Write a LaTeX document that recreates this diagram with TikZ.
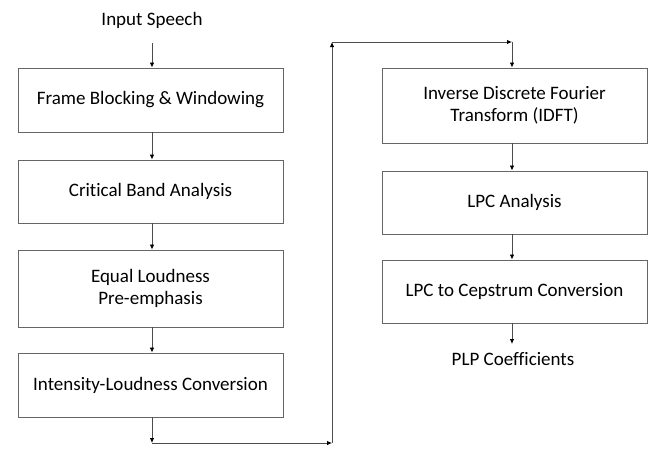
\documentclass[tikz,border=0pt]{standalone}
\usepackage{fontspec}
\setmainfont{Carlito}[Ligatures={NoCommon}]
\usetikzlibrary{arrows.meta}
\begin{document}
\begin{tikzpicture}[x=1pt,y=-1pt,
  box/.style={draw=black!60,line width=0.9pt,minimum width=265pt,align=center,inner sep=0pt,font=\fontsize{19}{22}\selectfont},
  lbl/.style={inner sep=0pt,font=\fontsize{19}{22}\selectfont},
  arr/.style={draw=black!70,line width=0.8pt,-{Latex[length=5pt,width=4.5pt,black]}}]
\useasboundingbox (0,0) rectangle (654,448);
\node[lbl] (in) at (152,20) {Input Speech};
\node[box,minimum height=64pt] (b1) at (150.5,100) {Frame Blocking \& Windowing};
\node[box,minimum height=63pt] (b2) at (150.5,191.5) {Critical Band Analysis};
\node[box,minimum height=77pt] (b3) at (150.5,288.5) {Equal Loudness\\Pre-emphasis};
\node[box,minimum height=64pt] (b4) at (150.5,385) {Intensity-Loudness Conversion};
\node[box,minimum height=75pt] (b5) at (514.5,105.5) {Inverse Discrete Fourier\\Transform (IDFT)};
\node[box,minimum height=63pt] (b6) at (514.5,202.5) {LPC Analysis};
\node[box,minimum height=63pt] (b7) at (514.5,291.5) {LPC to Cepstrum Conversion};
\node[lbl] (out) at (513,359) {PLP Coefficients};
\coordinate (c1) at (152,443);
\coordinate (c2) at (332,443);
\coordinate (c3) at (332,42);
\coordinate (c4) at (512,42);
\draw[arr] (152,43) -- (b1.north -| in);
\draw[arr] (b1.south -| in) -- (b2.north -| in);
\draw[arr] (b2.south -| in) -- (b3.north -| in);
\draw[arr] (b3.south -| in) -- (b4.north -| in);
\draw[arr] (b4.south -| c1) -- (c1);
\draw[arr] (c1) -- (c2);
\draw[arr] (c2) -- (c3);
\draw[arr] (c3) -- (c4);
\draw[arr] (c4) -- (b5.north -| c4);
\draw[arr] (b5.south -| c4) -- (b6.north -| c4);
\draw[arr] (b6.south -| c4) -- (b7.north -| c4);
\draw[arr] (b7.south -| c4) -- (512,344);
\end{tikzpicture}
\end{document}
